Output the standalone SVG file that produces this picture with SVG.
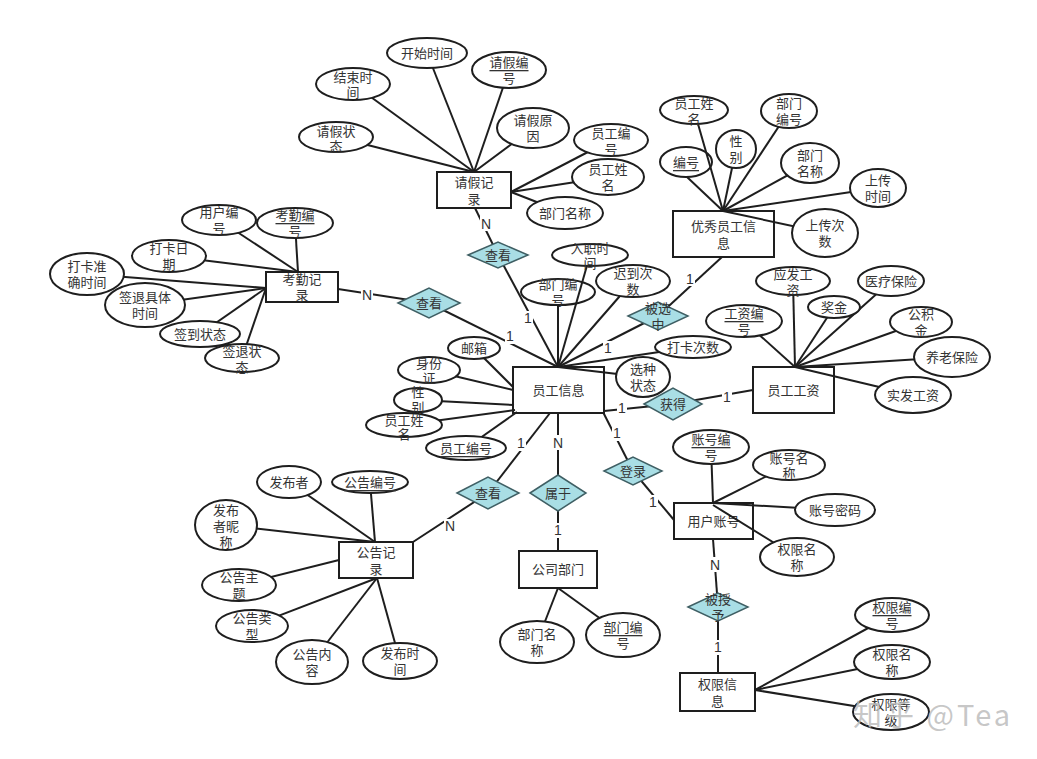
<svg xmlns="http://www.w3.org/2000/svg" width="1037" height="759" viewBox="0 0 1037 759">
<style>
.e{fill:#fff;stroke:#1e1e1e;stroke-width:2}
.r{fill:#fff;stroke:#1e1e1e;stroke-width:2}
.d{fill:#a9dee5;stroke:#3f5f64;stroke-width:1.5}
.t{font-family:"Liberation Sans","Noto Sans CJK SC",sans-serif;font-size:13px;fill:#333;text-anchor:middle;dominant-baseline:central}
.u{text-decoration:underline}
.c line{stroke:#1e1e1e;stroke-width:2}
.lb rect{fill:#fff}
.lb text{font-family:"Liberation Sans","Noto Sans CJK SC",sans-serif;font-size:14px;fill:#333;text-anchor:middle;dominant-baseline:central}
.wm{font-family:"Noto Sans CJK SC","Liberation Sans",sans-serif;font-size:29px;letter-spacing:3px;fill:#bdbdbd;fill-opacity:0.85}
</style>
<rect width="1037" height="759" fill="#fff"/>

<!-- entities -->
<g id="qingjia"><rect class="r" x="437" y="172" width="74" height="36"/><text class="t"><tspan x="474" y="182">请假记</tspan><tspan x="474" y="199">录</tspan></text></g>
<g id="kaoqin"><rect class="r" x="266" y="272" width="72" height="30"/><text class="t"><tspan x="302" y="279">考勤记</tspan><tspan x="302" y="295">录</tspan></text></g>
<g id="youxiu"><rect class="r" x="673" y="211" width="101" height="46"/><text class="t"><tspan x="723.5" y="226">优秀员工信</tspan><tspan x="723.5" y="243">息</tspan></text></g>
<g id="yuangong"><rect class="r" x="513" y="367" width="91" height="46"/><text class="t" x="558.5" y="390">员工信息</text></g>
<g id="gongzi"><rect class="r" x="753" y="367" width="81" height="46"/><text class="t" x="793.5" y="390">员工工资</text></g>
<g id="zhanghao"><rect class="r" x="674" y="503" width="79" height="36"/><text class="t" x="713.5" y="521">用户账号</text></g>
<g id="quanxian"><rect class="r" x="680" y="673" width="75" height="38"/><text class="t"><tspan x="717.5" y="684">权限信</tspan><tspan x="717.5" y="701">息</tspan></text></g>
<g id="bumen"><rect class="r" x="519" y="551" width="78" height="37"/><text class="t" x="558" y="569.5">公司部门</text></g>
<g id="gonggao"><rect class="r" x="339" y="542" width="74" height="36"/><text class="t"><tspan x="376" y="552">公告记</tspan><tspan x="376" y="569">录</tspan></text></g>

<!-- attributes that lines pass over -->
<g id="yg-bmbh"><ellipse class="e" cx="558" cy="292" rx="37" ry="13"/><text class="t"><tspan x="558" y="284">部门编</tspan><tspan x="558" y="300">号</tspan></text></g>
<g id="yx-bh"><ellipse class="e" cx="686" cy="162" rx="26" ry="15"/><text class="t"><tspan class="u" x="686" y="162">编号</tspan></text></g>

<!-- connectors -->
<g id="connectors" class="c">
<line x1="474" y1="172" x2="353" y2="84"/>
<line x1="474" y1="172" x2="427" y2="53"/>
<line x1="474" y1="172" x2="509" y2="70"/>
<line x1="474" y1="172" x2="533" y2="128"/>
<line x1="474" y1="172" x2="336" y2="137"/>
<line x1="511" y1="192" x2="611" y2="140"/>
<line x1="511" y1="192" x2="608" y2="177"/>
<line x1="511" y1="192" x2="565" y2="213"/>

<line x1="298" y1="272" x2="219" y2="220"/>
<line x1="298" y1="272" x2="295" y2="223"/>
<line x1="298" y1="272" x2="169" y2="256"/>
<line x1="266" y1="288" x2="87" y2="274"/>
<line x1="266" y1="288" x2="145" y2="305"/>
<line x1="266" y1="288" x2="200" y2="334"/>
<line x1="266" y1="288" x2="242" y2="358"/>

<line x1="723" y1="211" x2="694" y2="110"/>
<line x1="723" y1="211" x2="687" y2="177"/>
<line x1="723" y1="211" x2="736" y2="149"/>
<line x1="723" y1="211" x2="789" y2="111"/>
<line x1="723" y1="211" x2="810" y2="163"/>
<line x1="723" y1="211" x2="878" y2="188"/>
<line x1="723" y1="211" x2="825" y2="233"/>

<line x1="558" y1="367" x2="498" y2="255"/>
<line x1="558" y1="367" x2="429" y2="303"/>
<line x1="558" y1="367" x2="558" y2="305"/>
<line x1="558" y1="367" x2="590" y2="255"/>
<line x1="558" y1="367" x2="633" y2="281"/>
<line x1="558" y1="367" x2="658" y2="316"/>
<line x1="558" y1="367" x2="693" y2="347"/>
<line x1="558" y1="367" x2="643" y2="377"/>

<line x1="513" y1="387" x2="474" y2="348"/>
<line x1="513" y1="390" x2="429" y2="370"/>
<line x1="514" y1="405" x2="418" y2="400"/>
<line x1="515" y1="410" x2="404" y2="425"/>
<line x1="517" y1="412" x2="466" y2="448"/>

<line x1="550" y1="413" x2="488" y2="493"/>
<line x1="558" y1="413" x2="558" y2="493"/>
<line x1="603" y1="412" x2="633" y2="471"/>
<line x1="604" y1="411" x2="673" y2="404"/>

<line x1="488" y1="493" x2="413" y2="542"/>
<line x1="558" y1="493" x2="558" y2="551"/>
<line x1="633" y1="471" x2="674" y2="520"/>
<line x1="673" y1="404" x2="753" y2="390"/>
<line x1="722" y1="257" x2="658" y2="316"/>
<line x1="338" y1="289" x2="429" y2="303"/>
<line x1="475" y1="208" x2="498" y2="255"/>
<line x1="713" y1="539" x2="718" y2="607"/>
<line x1="718" y1="607" x2="718" y2="673"/>

<line x1="795" y1="367" x2="744" y2="321"/>
<line x1="795" y1="367" x2="793" y2="281"/>
<line x1="795" y1="367" x2="834" y2="307"/>
<line x1="795" y1="367" x2="891" y2="281"/>
<line x1="795" y1="367" x2="921" y2="322"/>
<line x1="795" y1="367" x2="952" y2="357"/>
<line x1="795" y1="367" x2="913" y2="395"/>

<line x1="713" y1="503" x2="711" y2="447"/>
<line x1="713" y1="503" x2="789" y2="465"/>
<line x1="713" y1="503" x2="835" y2="510"/>
<line x1="713" y1="505" x2="797" y2="557"/>

<line x1="755" y1="690" x2="892" y2="615"/>
<line x1="755" y1="690" x2="892" y2="662"/>
<line x1="755" y1="690" x2="891" y2="712"/>

<line x1="558" y1="588" x2="537" y2="642"/>
<line x1="558" y1="588" x2="623" y2="635"/>

<line x1="375" y1="542" x2="289" y2="482"/>
<line x1="375" y1="542" x2="370" y2="482"/>
<line x1="375" y1="542" x2="226" y2="525"/>
<line x1="339" y1="560" x2="239" y2="585"/>
<line x1="377" y1="578" x2="252" y2="626"/>
<line x1="377" y1="578" x2="312" y2="662"/>
<line x1="377" y1="578" x2="400" y2="661"/>

<g class="lb">
<rect x="480" y="216" width="12" height="15"/><text x="486" y="223.5">N</text>
<rect x="361" y="287" width="12" height="15"/><text x="367" y="294.5">N</text>
<rect x="523" y="311" width="10" height="15"/><text x="528" y="318">1</text>
<rect x="505" y="329" width="10" height="15"/><text x="510" y="336">1</text>
<rect x="603" y="341" width="10" height="15"/><text x="608" y="348">1</text>
<rect x="685" y="271" width="10" height="15"/><text x="690" y="278.5">1</text>
<rect x="617" y="400" width="10" height="15"/><text x="622" y="407.5">1</text>
<rect x="722" y="389" width="10" height="15"/><text x="727" y="396.5">1</text>
<rect x="516" y="436" width="10" height="15"/><text x="521" y="443">1</text>
<rect x="552" y="435" width="12" height="15"/><text x="558" y="442.5">N</text>
<rect x="612" y="426" width="10" height="15"/><text x="617" y="433">1</text>
<rect x="648" y="495" width="10" height="15"/><text x="653" y="502">1</text>
<rect x="444" y="519" width="12" height="15"/><text x="450" y="526">N</text>
<rect x="553" y="523" width="10" height="15"/><text x="558" y="530">1</text>
<rect x="709" y="557" width="12" height="15"/><text x="715" y="564.5">N</text>
<rect x="713" y="640" width="10" height="15"/><text x="718" y="647">1</text>
</g>
</g>

<!-- relationships -->
<g id="r-chakan1"><polygon class="d" points="468,255 498,242 528,255 498,268"/><text class="t" x="498" y="255">查看</text></g>
<g id="r-chakan2"><polygon class="d" points="398,303 429,288 460,303 429,318"/><text class="t" x="429" y="303">查看</text></g>
<g id="r-beixuanzhong"><polygon class="d" points="628,316 658,302 688,316 658,330"/><text class="t"><tspan x="658" y="308">被选</tspan><tspan x="658" y="324">中</tspan></text></g>
<g id="r-huode"><polygon class="d" points="644,404 673,388 702,404 673,420"/><text class="t" x="673" y="404">获得</text></g>
<g id="r-denglu"><polygon class="d" points="604,471 633,457 662,471 633,485"/><text class="t" x="633" y="471">登录</text></g>
<g id="r-beishouyu"><polygon class="d" points="688,607 718,593 748,607 718,621"/><text class="t"><tspan x="718" y="599">被授</tspan><tspan x="718" y="615">予</tspan></text></g>
<g id="r-shuyu"><polygon class="d" points="530,493 558,475 586,493 558,511"/><text class="t" x="558" y="493">属于</text></g>
<g id="r-chakan3"><polygon class="d" points="457,493 488,477 519,493 488,509"/><text class="t" x="488" y="493">查看</text></g>

<!-- attributes: 请假记录 -->
<g id="qj-ks"><ellipse class="e" cx="427" cy="53" rx="40" ry="15"/><text class="t" x="427" y="53">开始时间</text></g>
<g id="qj-bh"><ellipse class="e" cx="509" cy="70" rx="37" ry="18"/><text class="t"><tspan class="u" x="509" y="62">请假编</tspan><tspan x="509" y="78">号</tspan></text></g>
<g id="qj-js"><ellipse class="e" cx="353" cy="84" rx="37" ry="16"/><text class="t"><tspan x="353" y="77">结束时</tspan><tspan x="353" y="92">间</tspan></text></g>
<g id="qj-zt"><ellipse class="e" cx="336" cy="137" rx="37" ry="15"/><text class="t"><tspan x="336" y="131">请假状</tspan><tspan x="336" y="146">态</tspan></text></g>
<g id="qj-yy"><ellipse class="e" cx="533" cy="128" rx="36" ry="20"/><text class="t"><tspan x="533" y="120">请假原</tspan><tspan x="533" y="136">因</tspan></text></g>
<g id="qj-ygbh"><ellipse class="e" cx="611" cy="140" rx="37" ry="16"/><text class="t"><tspan x="611" y="133">员工编</tspan><tspan x="611" y="149">号</tspan></text></g>
<g id="qj-ygxm"><ellipse class="e" cx="608" cy="177" rx="36" ry="18"/><text class="t"><tspan x="608" y="169">员工姓</tspan><tspan x="608" y="185">名</tspan></text></g>
<g id="qj-bmmc"><ellipse class="e" cx="565" cy="213" rx="38" ry="16"/><text class="t" x="565" y="213">部门名称</text></g>

<!-- attributes: 考勤记录 -->
<g id="kq-yhbh"><ellipse class="e" cx="219" cy="220" rx="37" ry="15"/><text class="t"><tspan x="219" y="212">用户编</tspan><tspan x="219" y="228">号</tspan></text></g>
<g id="kq-kqbh"><ellipse class="e" cx="295" cy="223" rx="38" ry="15"/><text class="t"><tspan class="u" x="295" y="215">考勤编</tspan><tspan x="295" y="231">号</tspan></text></g>
<g id="kq-dkrq"><ellipse class="e" cx="169" cy="256" rx="37" ry="16"/><text class="t"><tspan x="169" y="248">打卡日</tspan><tspan x="169" y="264">期</tspan></text></g>
<g id="kq-dkzq"><ellipse class="e" cx="87" cy="274" rx="37" ry="21"/><text class="t"><tspan x="87" y="266">打卡准</tspan><tspan x="87" y="282">确时间</tspan></text></g>
<g id="kq-qtjt"><ellipse class="e" cx="145" cy="305" rx="40" ry="22"/><text class="t"><tspan x="145" y="297">签退具体</tspan><tspan x="145" y="313">时间</tspan></text></g>
<g id="kq-qdzt"><ellipse class="e" cx="200" cy="334" rx="40" ry="13"/><text class="t" x="200" y="334">签到状态</text></g>
<g id="kq-qtzt"><ellipse class="e" cx="242" cy="358" rx="37" ry="14"/><text class="t"><tspan x="242" y="351">签退状</tspan><tspan x="242" y="367">态</tspan></text></g>

<!-- attributes: 优秀员工信息 -->
<g id="yx-xm"><ellipse class="e" cx="694" cy="110" rx="34" ry="14"/><text class="t"><tspan x="694" y="103">员工姓</tspan><tspan x="694" y="119">名</tspan></text></g>
<g id="yx-bmbh"><ellipse class="e" cx="789" cy="111" rx="28" ry="17"/><text class="t"><tspan x="789" y="103">部门</tspan><tspan x="789" y="119">编号</tspan></text></g>
<g id="yx-xb"><ellipse class="e" cx="736" cy="149" rx="20" ry="19"/><text class="t"><tspan x="736" y="141">性</tspan><tspan x="736" y="157">别</tspan></text></g>
<g id="yx-bmmc"><ellipse class="e" cx="810" cy="163" rx="29" ry="20"/><text class="t"><tspan x="810" y="155">部门</tspan><tspan x="810" y="171">名称</tspan></text></g>
<g id="yx-scsj"><ellipse class="e" cx="878" cy="188" rx="28" ry="19"/><text class="t"><tspan x="878" y="180">上传</tspan><tspan x="878" y="196">时间</tspan></text></g>
<g id="yx-sccs"><ellipse class="e" cx="825" cy="233" rx="33" ry="24"/><text class="t"><tspan x="825" y="225">上传次</tspan><tspan x="825" y="241">数</tspan></text></g>

<!-- attributes: 员工信息 -->
<g id="yg-rzsj"><ellipse class="e" cx="590" cy="255" rx="38" ry="11"/><text class="t"><tspan x="590" y="248">入职时</tspan><tspan x="590" y="263">间</tspan></text></g>
<g id="yg-cdcs"><ellipse class="e" cx="633" cy="281" rx="37" ry="16"/><text class="t"><tspan x="633" y="273">迟到次</tspan><tspan x="633" y="289">数</tspan></text></g>
<g id="yg-dkcs"><ellipse class="e" cx="693" cy="347" rx="38" ry="11"/><text class="t" x="693" y="347">打卡次数</text></g>
<g id="yg-xzzt"><ellipse class="e" cx="643" cy="377" rx="27" ry="20"/><text class="t"><tspan x="643" y="369">选种</tspan><tspan x="643" y="385">状态</tspan></text></g>
<g id="yg-yx"><ellipse class="e" cx="474" cy="348" rx="26" ry="11"/><text class="t" x="474" y="348">邮箱</text></g>
<g id="yg-sfz"><ellipse class="e" cx="429" cy="370" rx="31" ry="13"/><text class="t"><tspan x="429" y="363">身份</tspan><tspan x="429" y="378">证</tspan></text></g>
<g id="yg-xb"><ellipse class="e" cx="418" cy="400" rx="24" ry="12"/><text class="t"><tspan x="418" y="392">性</tspan><tspan x="418" y="407">别</tspan></text></g>
<g id="yg-xm"><ellipse class="e" cx="404" cy="425" rx="38" ry="12"/><text class="t"><tspan x="404" y="420">员工姓</tspan><tspan x="404" y="434">名</tspan></text></g>
<g id="yg-bh"><ellipse class="e" cx="466" cy="448" rx="40" ry="12"/><text class="t"><tspan class="u" x="466" y="448">员工编号</tspan></text></g>

<!-- attributes: 员工工资 -->
<g id="gz-yf"><ellipse class="e" cx="793" cy="281" rx="37" ry="14"/><text class="t"><tspan x="793" y="274">应发工</tspan><tspan x="793" y="290">资</tspan></text></g>
<g id="gz-bh"><ellipse class="e" cx="744" cy="321" rx="38" ry="16"/><text class="t"><tspan class="u" x="744" y="313">工资编</tspan><tspan x="744" y="329">号</tspan></text></g>
<g id="gz-jj"><ellipse class="e" cx="834" cy="307" rx="26" ry="11"/><text class="t" x="834" y="307">奖金</text></g>
<g id="gz-yl"><ellipse class="e" cx="891" cy="281" rx="33" ry="15"/><text class="t" x="891" y="281">医疗保险</text></g>
<g id="gz-gjj"><ellipse class="e" cx="921" cy="322" rx="31" ry="15"/><text class="t"><tspan x="921" y="314">公积</tspan><tspan x="921" y="330">金</tspan></text></g>
<g id="gz-ylbx"><ellipse class="e" cx="952" cy="357" rx="38" ry="20"/><text class="t" x="952" y="357">养老保险</text></g>
<g id="gz-sf"><ellipse class="e" cx="913" cy="395" rx="38" ry="18"/><text class="t" x="913" y="395">实发工资</text></g>

<!-- attributes: 用户账号 -->
<g id="zh-bh"><ellipse class="e" cx="711" cy="447" rx="38" ry="17"/><text class="t"><tspan class="u" x="711" y="439">账号编</tspan><tspan x="711" y="455">号</tspan></text></g>
<g id="zh-mc"><ellipse class="e" cx="789" cy="465" rx="36" ry="15"/><text class="t"><tspan x="789" y="458">账号名</tspan><tspan x="789" y="473">称</tspan></text></g>
<g id="zh-mm"><ellipse class="e" cx="835" cy="510" rx="40" ry="16"/><text class="t" x="835" y="510">账号密码</text></g>
<g id="zh-qxmc"><ellipse class="e" cx="797" cy="557" rx="37" ry="19"/><text class="t"><tspan x="797" y="549">权限名</tspan><tspan x="797" y="565">称</tspan></text></g>

<!-- attributes: 权限信息 -->
<g id="qx-bh"><ellipse class="e" cx="892" cy="615" rx="37" ry="17"/><text class="t"><tspan class="u" x="892" y="607">权限编</tspan><tspan x="892" y="623">号</tspan></text></g>
<g id="qx-mc"><ellipse class="e" cx="892" cy="662" rx="38" ry="17"/><text class="t"><tspan x="892" y="654">权限名</tspan><tspan x="892" y="670">称</tspan></text></g>
<g id="qx-dj"><ellipse class="e" cx="891" cy="712" rx="38" ry="18"/><text class="t"><tspan x="891" y="704">权限等</tspan><tspan x="891" y="720">级</tspan></text></g>

<!-- attributes: 公司部门 -->
<g id="bm-mc"><ellipse class="e" cx="537" cy="642" rx="37" ry="21"/><text class="t"><tspan x="537" y="634">部门名</tspan><tspan x="537" y="650">称</tspan></text></g>
<g id="bm-bh"><ellipse class="e" cx="623" cy="635" rx="37" ry="22"/><text class="t"><tspan class="u" x="623" y="627">部门编</tspan><tspan x="623" y="643">号</tspan></text></g>

<!-- attributes: 公告记录 -->
<g id="gg-fbz"><ellipse class="e" cx="289" cy="482" rx="32" ry="16"/><text class="t" x="289" y="482">发布者</text></g>
<g id="gg-bh"><ellipse class="e" cx="370" cy="482" rx="38" ry="11"/><text class="t"><tspan class="u" x="370" y="482">公告编号</tspan></text></g>
<g id="gg-nc"><ellipse class="e" cx="226" cy="525" rx="31" ry="25"/><text class="t"><tspan x="226" y="510">发布</tspan><tspan x="226" y="526">者昵</tspan><tspan x="226" y="542">称</tspan></text></g>
<g id="gg-zt"><ellipse class="e" cx="239" cy="585" rx="37" ry="16"/><text class="t"><tspan x="239" y="577">公告主</tspan><tspan x="239" y="593">题</tspan></text></g>
<g id="gg-lx"><ellipse class="e" cx="252" cy="626" rx="36" ry="16"/><text class="t"><tspan x="252" y="618">公告类</tspan><tspan x="252" y="634">型</tspan></text></g>
<g id="gg-nr"><ellipse class="e" cx="312" cy="662" rx="36" ry="22"/><text class="t"><tspan x="312" y="654">公告内</tspan><tspan x="312" y="670">容</tspan></text></g>
<g id="gg-sj"><ellipse class="e" cx="400" cy="661" rx="37" ry="18"/><text class="t"><tspan x="400" y="653">发布时</tspan><tspan x="400" y="669">间</tspan></text></g>

<text class="wm" x="853" y="726">知乎 @Tea</text>
</svg>
